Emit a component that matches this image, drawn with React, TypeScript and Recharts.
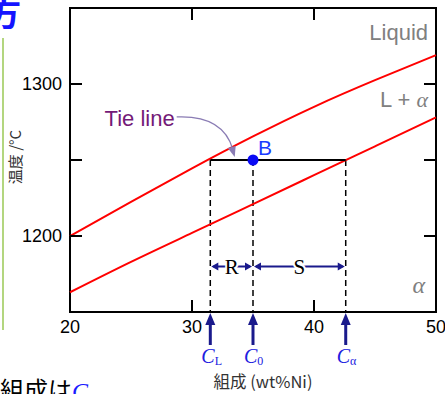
import React from "react";
import {
  ComposedChart,
  Line,
  Scatter,
  XAxis,
  YAxis,
  ReferenceLine,
  ReferenceArea,
  ReferenceDot,
} from "recharts";

// plot box (px) - used only for the inward ticks and annotations
const PLOT = { left: 70, right: 436, top: 8, bottom: 312 };

const composition = [20, 25, 30, 35, 40, 45, 50];
const liquidusT = [1200, 1222.5, 1244.5, 1265.5, 1285, 1302.5, 1319];
const solidusT = [1163, 1183, 1202, 1221, 1240, 1259, 1278];
const xTicks = [20, 30, 40, 50];
const yTicks = [1150, 1200, 1250, 1300, 1350];
const yTickLabels = [1200, 1300];
const tieTemp = 1250;
const markerComps = [31.5, 35, 42.6];
const markerSubs = ["L", "0", "α"];
const pointB = [{ x: 35, y: 1250 }];
const leverTemp = 1180;
const tieArrowAt = { x: 33.5, y: 1252 };

const rows = composition.map((x, i) => ({
  x,
  liq: liquidusT[i],
  sol: solidusT[i],
}));
const tieRows = [
  { x: markerComps[0], y: tieTemp },
  { x: markerComps[2], y: tieTemp },
];

const NAVY = "#1a1a8c";
const SANS = "'Liberation Sans', Arial, sans-serif";
const SERIF = "'Liberation Serif', 'Times New Roman', serif";
const CJK = "'Noto Sans CJK JP', sans-serif";

const YTick = (p: any) => {
  const v = p.payload.value;
  const y = p.y;
  return (
    <g>
      <line x1={PLOT.left} x2={PLOT.left + 12} y1={y} y2={y} stroke="#000" strokeWidth={2} />
      <line x1={PLOT.right - 12} x2={PLOT.right} y1={y} y2={y} stroke="#000" strokeWidth={2} />
      {yTickLabels.includes(v) && (
        <text x={PLOT.left - 8} y={y} dy="0.36em" textAnchor="end" fontSize={18} fontFamily={SANS} fill="#000">
          {v}
        </text>
      )}
    </g>
  );
};

const XTick = (p: any) => {
  const x = p.x;
  return (
    <g>
      <line x1={x} x2={x} y1={PLOT.bottom} y2={PLOT.bottom - 12} stroke="#000" strokeWidth={2} />
      <line x1={x} x2={x} y1={PLOT.top} y2={PLOT.top + 12} stroke="#000" strokeWidth={2} />
      <text x={x} y={PLOT.bottom + 21} textAnchor="middle" fontSize={18} fontFamily={SANS} fill="#000">
        {p.payload.value}
      </text>
    </g>
  );
};

const MarkerTick = (p: any) => {
  const x = p.x;
  const i = markerComps.indexOf(p.payload.value);
  return (
    <g>
      <line x1={x} x2={x} y1={PLOT.bottom + 10} y2={PLOT.bottom + 33} stroke={NAVY} strokeWidth={3} />
      <polygon
        points={`${x},${PLOT.bottom + 1} ${x - 5},${PLOT.bottom + 13} ${x + 5},${PLOT.bottom + 13}`}
        fill={NAVY}
      />
      <text x={x - 9} y={PLOT.bottom + 51} fill="#2020e0" fontFamily={SERIF} fontSize={20}>
        <tspan fontStyle="italic">C</tspan>
        <tspan fontSize={12} dy={2}>
          {markerSubs[i]}
        </tspan>
      </text>
    </g>
  );
};

const leverArrow = (name: string) => (p: any) => {
  const l = Math.min(p.x1, p.x2);
  const r = Math.max(p.x1, p.x2);
  const y = p.y1;
  return (
    <g>
      <line x1={l + 3} x2={r - 3} y1={y} y2={y} stroke={NAVY} strokeWidth={2} />
      <polygon points={`${l + 1},${y} ${l + 8},${y - 4} ${l + 8},${y + 4}`} fill={NAVY} />
      <polygon points={`${r - 1},${y} ${r - 8},${y - 4} ${r - 8},${y + 4}`} fill={NAVY} />
      <text
        x={(l + r) / 2}
        y={y + 8}
        textAnchor="middle"
        fontFamily={SERIF}
        fontSize={21}
        fill="#000"
        stroke="#fff"
        strokeWidth={4}
        paintOrder="stroke"
      >
        {name}
      </text>
    </g>
  );
};

const TieLineNote = (p: any) => {
  const { cx, cy } = p;
  const sx = cx - 58;
  const sy = cy - 40;
  return (
    <g>
      <text x={sx - 2} y={cy - 31} textAnchor="end" fontFamily={SANS} fontSize={22} fill="#741a78">
        Tie line
      </text>
      <path
        d={`M ${sx} ${sy} Q ${cx - 12} ${cy - 42} ${cx - 2} ${cy - 8}`}
        fill="none"
        stroke="#8a7cb4"
        strokeWidth={1.3}
      />
      <polygon points={`${cx},${cy} ${cx - 7},${cy - 9} ${cx + 1},${cy - 11}`} fill="#8a7cb4" />
    </g>
  );
};

const PointB = (p: any) => (
  <g>
    <circle cx={p.cx} cy={p.cy} r={5.5} fill="#0a0af5" />
    <text x={p.cx + 5} y={p.cy - 5} fontFamily={SANS} fontSize={21} fill="#1a3cff">
      B
    </text>
  </g>
);

export default function App() {
  return (
    <div
      style={{
        position: "fixed",
        left: 0,
        top: 0,
        width: 445,
        height: 394,
        overflow: "hidden",
        background: "#fff",
      }}
    >
      <div style={{ position: "absolute", left: 0, top: 0 }}>
        <ComposedChart
          width={445}
          height={394}
          data={rows}
          margin={{ top: 8, right: 9, left: 0, bottom: 52 }}
        >
          <XAxis
            dataKey="x"
            type="number"
            domain={[20, 50]}
            ticks={xTicks}
            interval={0}
            height={29}
            axisLine={false}
            tickLine={false}
            tick={XTick}
            label={() => (
              <text x={263} y={388} textAnchor="middle" fontFamily={CJK} fontSize={16.5} fill="#333">
                組成 (wt%Ni)
              </text>
            )}
          />
          <XAxis
            xAxisId="m"
            dataKey="x"
            type="number"
            domain={[20, 50]}
            ticks={markerComps}
            interval={0}
            height={1}
            axisLine={false}
            tickLine={false}
            tick={MarkerTick}
          />
          <YAxis
            type="number"
            domain={[1150, 1350]}
            ticks={yTicks}
            interval={0}
            width={70}
            axisLine={false}
            tickLine={false}
            tick={YTick}
            label={() => (
              <text
                x={16}
                y={157}
                dy="0.35em"
                textAnchor="middle"
                fontFamily={CJK}
                fontSize={15}
                fill="#333"
                transform="rotate(-90 16 157)"
              >
                温度 /°C
              </text>
            )}
          />
          <ReferenceArea
            x1={20}
            x2={50}
            y1={1150}
            y2={1350}
            fill="none"
            stroke="#000"
            strokeWidth={2}
          />
          {markerComps.map((c) => (
            <ReferenceLine
              key={c}
              segment={[
                { x: c, y: tieTemp },
                { x: c, y: 1150 },
              ]}
              stroke="#000"
              strokeWidth={1.5}
              strokeDasharray="6 4"
            />
          ))}
          <ReferenceLine
            segment={[
              { x: markerComps[0], y: leverTemp },
              { x: markerComps[1], y: leverTemp },
            ]}
            shape={leverArrow("R")}
          />
          <ReferenceLine
            segment={[
              { x: markerComps[1], y: leverTemp },
              { x: markerComps[2], y: leverTemp },
            ]}
            shape={leverArrow("S")}
          />
          <Line
            dataKey="liq"
            type="natural"
            stroke="#ff0000"
            strokeWidth={2}
            dot={false}
            isAnimationActive={false}
          />
          <Line
            dataKey="sol"
            type="natural"
            stroke="#ff0000"
            strokeWidth={2}
            dot={false}
            isAnimationActive={false}
          />
          <Line
            data={tieRows}
            dataKey="y"
            stroke="#000"
            strokeWidth={2}
            dot={false}
            isAnimationActive={false}
          />
          <Scatter data={pointB} dataKey="y" shape={PointB} isAnimationActive={false} />
          <ReferenceDot x={tieArrowAt.x} y={tieArrowAt.y} shape={TieLineNote} />
          <text x={428} y={40} textAnchor="end" fontFamily={SANS} fontSize={22} fill="#808080">
            Liquid
          </text>
          <text x={428} y={107} textAnchor="end" fontFamily={SANS} fontSize={22} fill="#808080">
            L + <tspan fontStyle="italic" fontFamily={SERIF}>α</tspan>
          </text>
          <text x={425} y={293} textAnchor="end" fontFamily={SERIF} fontStyle="italic" fontSize={24} fill="#808080">
            α
          </text>
        </ComposedChart>
      </div>
      <span
        style={{
          position: "absolute",
          left: -13,
          top: -5,
          fontSize: 34,
          fontWeight: 700,
          lineHeight: 1,
          color: "#1414ff",
          fontFamily: CJK,
        }}
      >
        方
      </span>
      <div
        style={{
          position: "absolute",
          left: 2,
          top: 38,
          height: 292,
          borderLeft: "2px solid #b3d67f",
        }}
      />
      <div
        style={{
          position: "absolute",
          left: 0,
          top: 377,
          fontSize: 24,
          lineHeight: 1,
          fontFamily: CJK,
          whiteSpace: "nowrap",
          color: "#000",
        }}
      >
        組成は
        <span style={{ color: "#1a1aff", fontStyle: "italic", fontFamily: SERIF }}>C</span>
      </div>
    </div>
  );
}
